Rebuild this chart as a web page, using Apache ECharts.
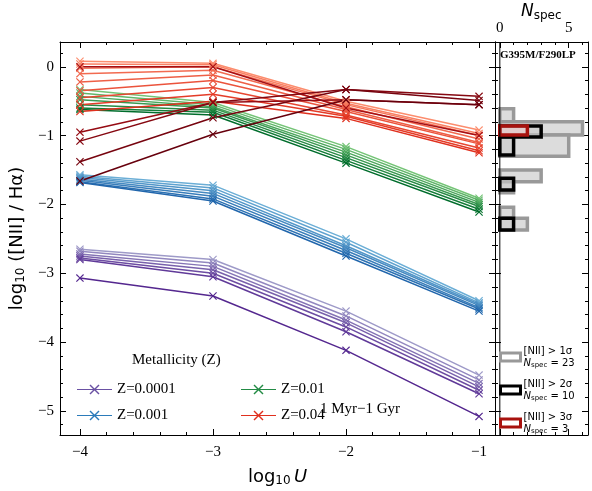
<!DOCTYPE html>
<html><head><meta charset="utf-8">
<script src="https://cdn.jsdelivr.net/npm/echarts@6/dist/echarts.min.js"></script>
<style>html,body{margin:0;padding:0;background:#fff}#c{width:592px;height:491px}</style>
</head><body><div id="c"></div>
<script>
const logU = [-4, -3, -2, -1];
const purpleLines = [
 [-2.65,-2.80,-3.55,-4.48],[-2.68,-2.85,-3.62,-4.55],[-2.72,-2.90,-3.68,-4.60],[-2.75,-2.95,-3.72,-4.65],
 [-2.78,-3.00,-3.78,-4.70],[-2.80,-3.05,-3.85,-4.75],[-3.07,-3.33,-4.12,-5.08]];
const blueLines = [
 [-1.57,-1.72,-2.50,-3.40],[-1.59,-1.76,-2.55,-3.43],[-1.61,-1.80,-2.60,-3.45],[-1.63,-1.84,-2.63,-3.47],
 [-1.65,-1.88,-2.67,-3.50],[-1.67,-1.92,-2.71,-3.52],[-1.68,-1.95,-2.75,-3.55]];
const greenLines = [
 [-0.33,-0.52,-1.16,-1.91],[-0.38,-0.55,-1.20,-1.94],[-0.43,-0.58,-1.24,-1.97],[-0.48,-0.60,-1.28,-2.00],
 [-0.55,-0.63,-1.32,-2.03],[-0.60,-0.66,-1.36,-2.07],[-0.62,-0.70,-1.40,-2.11]];
const redLines = [
 [0.08,0.05,-0.50,-0.92],[0.04,0.03,-0.53,-0.97],[-0.02,0.00,-0.55,-1.00],[-0.10,-0.05,-0.58,-1.05],
 [-0.22,-0.12,-0.62,-1.10],[-0.35,-0.20,-0.65,-1.12],[-0.45,-0.30,-0.70,-1.18],[-0.55,-0.40,-0.72,-1.22],
 [-0.65,-0.50,-0.75,-1.25]];
const darkRedLines = [
 [0.00,0.00,-0.60,-1.00],[-0.95,-0.52,-0.48,-0.55],[-1.08,-0.52,-0.33,-0.43],[-1.38,-0.74,-0.33,-0.49],[-1.66,-0.98,-0.48,-0.55]];
// histogram bins: [low, high, count]
const histGray = [[-0.61,-0.80,1],[-0.80,-0.99,6],[-0.99,-1.30,5],[-1.50,-1.67,3],[-1.67,-1.83,1],[-2.04,-2.20,1],[-2.20,-2.37,2]];
const histBlack = [[-0.86,-1.02,3],[-1.02,-1.28,1],[-1.62,-1.79,1],[-2.20,-2.37,1]];
const histRed = [[-0.86,-0.99,2]];
const xTicks = [-4,-3,-2,-1];
const yTicks = [0,-1,-2,-3,-4,-5];
const nTicks = [0,5];

const serif = 'Liberation Serif';
const X = 'path://M1,0L5,4L9,0L10,1L6,5L10,9L9,10L5,6L1,10L0,9L4,5L0,1Z';
const LEG = 'path://M0,4.6L35,4.6L35,5.4L0,5.4Z M13.5,0L17.5,4L21.5,0L22.5,1L18.5,5L22.5,9L21.5,10L17.5,6L13.5,10L12.5,9L16.5,5L12.5,1Z';
function ramp(a,b,n){const p=s=>[1,3,5].map(i=>parseInt(s.substr(i,2),16));const A=p(a),B=p(b);
 return Array.from({length:n},(_,i)=>{const t=n>1?i/(n-1):0;return 'rgb('+A.map((v,k)=>Math.round(v+(B[k]-v)*t)).join(',')+')';});}
const xMin=-4.15,xMax=-0.88,yMin=-5.35,yMax=0.36;
function minors(a,b,st,majors){const r=[];for(let v=Math.ceil(a/st)*st;v<=b+1e-9;v+=st){const w=Math.round(v*100)/100;if(!majors.some(m=>Math.abs(m-w)<1e-6))r.push(w);}return r;}
const xMinor=minors(xMin,xMax,0.2,xTicks), yMinor=minors(yMin,yMax,0.2,yTicks), nMinor=[1,2,3,4,6];

function ax(grid,pos,min,max,major,minor,labels,extra){
 const base={type:'value',gridIndex:grid,position:pos,min,max,splitLine:{show:false}};
 return [Object.assign({},base,{axisLine:{show:true,onZero:false,lineStyle:{color:'#000',width:1}},
   axisTick:{show:true,inside:true,length:6,customValues:major,lineStyle:{color:'#000'}},
   axisLabel:{show:labels,customValues:major,color:'#000',fontFamily:serif,fontSize:15,margin:pos==='bottom'?10:6,formatter:v=>String(v).replace('-','−')}},extra||{}),
  Object.assign({},base,{axisLine:{show:false,onZero:false},axisTick:{show:true,inside:true,length:3,customValues:minor,lineStyle:{color:'#000'}},axisLabel:{show:false,customValues:minor}})];
}
const xAxes=[...ax(0,'bottom',xMin,xMax,xTicks,xMinor,true,{name:'{a|log}{s|10} {i|U}',nameLocation:'middle',nameGap:32,
  nameTextStyle:{rich:{a:{fontSize:18,fontFamily:'DejaVu Sans'},s:{fontSize:12,fontFamily:'DejaVu Sans',verticalAlign:'bottom',padding:[8,0,0,0]},i:{fontSize:18,fontStyle:'italic',fontFamily:'DejaVu Sans'}}}}),
 ...ax(0,'top',xMin,xMax,xTicks,xMinor,false),
 ...ax(1,'top',-0.35,6.4,nTicks,nMinor,true),
 ...ax(1,'bottom',-0.35,6.4,nTicks,nMinor,false)];
const yAxes=[...ax(0,'left',yMin,yMax,yTicks,yMinor,true,{name:'{a|log}{s|10}{a| ([NII] / Hα)}',nameLocation:'middle',nameGap:30,
  nameTextStyle:{rich:{a:{fontSize:18,fontFamily:'DejaVu Sans'},s:{fontSize:12,fontFamily:'DejaVu Sans',verticalAlign:'bottom',padding:[8,0,0,0]}}}}),
 ...ax(0,'right',yMin,yMax,yTicks,yMinor,false),
 ...ax(1,'left',yMin,yMax,yTicks,yMinor,false),
 ...ax(1,'right',yMin,yMax,yTicks,yMinor,false)];

const series=[];
function addGroup(lines,c1,c2,name){const cols=ramp(c1,c2,lines.length);
 lines.forEach((l,i)=>series.push({type:'line',name,xAxisIndex:0,yAxisIndex:0,data:logU.map((x,k)=>[x,l[k]]),
  symbol:X,symbolSize:8,showSymbol:true,lineStyle:{width:1.5,color:cols[i]},itemStyle:{color:cols[i]},z:3,animation:false}));}
addGroup(purpleLines,'#9e9ac8','#54278f','Z=0.0001');
addGroup(blueLines,'#6baed6','#2166ac','Z=0.001');
addGroup(greenLines,'#74c476','#006d2c','Z=0.01');
addGroup(redLines,'#fc8d6e','#e0301e','Z=0.04');
addGroup(darkRedLines,'#a50f15','#67000d','Z=0.04');

function hist(data,name,stroke,fill){series.push({type:'custom',name,xAxisIndex:4,yAxisIndex:4,data,animation:false,
 itemStyle:{color:'#fff',borderColor:stroke,borderWidth:3},
 renderItem:(p,api)=>{const a=api.coord([0,api.value(0)]),b=api.coord([api.value(2),api.value(1)]);
  return {type:'rect',shape:{x:a[0],y:Math.min(a[1],b[1]),width:b[0]-a[0],height:Math.abs(b[1]-a[1])},
   style:{fill,stroke,lineWidth:3.5}};}});}
hist(histGray,'g1','#999','#dcdcdc');
hist(histBlack,'g2','#000','rgba(200,200,200,0.6)');
hist(histRed,'g3','#a8120e','rgba(240,200,200,0.6)');
series.push({type:'line',xAxisIndex:4,yAxisIndex:4,data:[[0,yMin],[0,yMax]],symbol:'none',lineStyle:{color:'#000',width:1},silent:true,animation:false});

const legTxt={fontFamily:serif,fontSize:15,color:'#000'};
const opt={animation:false,
 grid:[{left:60,top:42,width:435,height:393,outerBoundsMode:'none'},{left:495,top:42,width:93,height:393,outerBoundsMode:'none'}],
 xAxis:xAxes,yAxis:yAxes,series,
 legend:[
  {left:72,top:377,orient:'vertical',itemGap:11,itemWidth:35,itemHeight:10,icon:LEG,textStyle:legTxt,
   data:[{name:'Z=0.0001',itemStyle:{color:'#6a51a3'}},{name:'Z=0.001',itemStyle:{color:'#2b7bba'}}]},
  {left:236,top:377,orient:'vertical',itemGap:11,itemWidth:35,itemHeight:10,icon:LEG,textStyle:legTxt,
   data:[{name:'Z=0.01',itemStyle:{color:'#238b45'}},{name:'Z=0.04',itemStyle:{color:'#e0301e'}}]},
  {left:497,top:343,orient:'vertical',itemWidth:20,itemHeight:8,itemGap:9,icon:'rect',padding:[2,2,2,2],
   textStyle:{fontFamily:'DejaVu Sans',fontSize:10,color:'#000',lineHeight:12,padding:[0,0,0,-2],rich:{i:{fontStyle:'italic',fontSize:10,fontFamily:'DejaVu Sans'},s:{fontSize:7,fontFamily:'DejaVu Sans',verticalAlign:'bottom',padding:[4,0,0,0]},t:{fontSize:10,fontFamily:'DejaVu Sans'}}},
   formatter:n=>({g1:'[NII] > 1σ\n{i|N}{s|spec}{t| = 23}',g2:'[NII] > 2σ\n{i|N}{s|spec}{t| = 10}',g3:'[NII] > 3σ\n{i|N}{s|spec}{t| = 3}'})[n],
   data:[{name:'g1',itemStyle:{color:'#fff',borderColor:'#999',borderWidth:3}},{name:'g2',itemStyle:{color:'#fff',borderColor:'#000',borderWidth:3}},{name:'g3',itemStyle:{color:'#fff',borderColor:'#a8120e',borderWidth:3}}]}
 ],
 graphic:[
  {type:'text',left:521,top:3,style:{text:'{i|N}{s|spec}',rich:{i:{font:'italic 17px "DejaVu Sans"'},s:{font:'12px "DejaVu Sans"',verticalAlign:'bottom',padding:[9,0,0,0]}},fill:'#000'}},
  {type:'text',left:132,top:353,style:{text:'Metallicity (Z)',font:'15px "Liberation Serif"',fill:'#000'}},
  {type:'text',left:320,top:402,style:{text:'1 Myr−1 Gyr',font:'15px "Liberation Serif"',fill:'#000'}},
  {type:'text',left:500,top:50,style:{text:'G395M/F290LP',font:'bold 11px "Liberation Serif"',fill:'#000'}}
 ]};
const ch=echarts.init(document.getElementById('c'));ch.setOption(opt);
</script></body></html>
